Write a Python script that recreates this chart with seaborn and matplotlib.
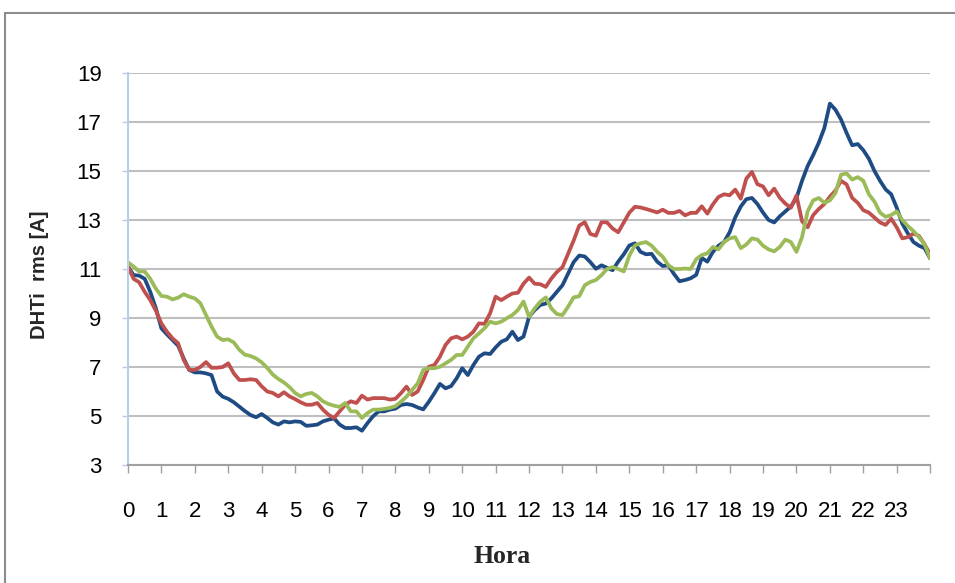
import numpy as np
import pandas as pd
import matplotlib
matplotlib.use("Agg")
import matplotlib.pyplot as plt
import seaborn as sns
from matplotlib.patches import Rectangle

# Data: DHTi rms [A], one value every 10 minutes from 00:00 to 24:00
serie_azul = [
    11.1, 10.75, 10.73, 10.6, 10.07, 9.4,
    8.58, 8.33, 8.1, 7.87, 7.35, 6.88,
    6.78, 6.78, 6.74, 6.67, 6.0, 5.79,
    5.7, 5.56, 5.38, 5.2, 5.04, 4.95,
    5.08, 4.92, 4.74, 4.65, 4.78, 4.74,
    4.78, 4.76, 4.6, 4.62, 4.65, 4.78,
    4.85, 4.9, 4.65, 4.51, 4.51, 4.54,
    4.4, 4.71, 4.99, 5.19, 5.19, 5.26,
    5.3, 5.45, 5.49, 5.45, 5.35, 5.27,
    5.58, 5.93, 6.31, 6.13, 6.22, 6.54,
    6.95, 6.67, 7.08, 7.42, 7.56, 7.53,
    7.8, 8.03, 8.13, 8.44, 8.1, 8.24,
    9.05, 9.32, 9.53, 9.59, 9.8, 10.07,
    10.34, 10.81, 11.28, 11.55, 11.51, 11.28,
    11.01, 11.15, 11.05, 10.95, 11.3, 11.6,
    11.96, 12.05, 11.7, 11.6, 11.62, 11.3,
    11.12, 11.15, 10.8, 10.5, 10.55, 10.62,
    10.76, 11.45, 11.3, 11.7, 11.95, 12.1,
    12.5, 13.1, 13.55, 13.85, 13.9, 13.65,
    13.3, 13.0, 12.9, 13.15, 13.35, 13.55,
    13.9, 14.6, 15.2, 15.65, 16.15, 16.75,
    17.75, 17.5, 17.1, 16.55, 16.05, 16.1,
    15.85, 15.5, 15.0, 14.6, 14.25, 14.05,
    13.5, 12.85, 12.45, 12.1, 11.95, 11.85,
    11.43,
]

serie_roja = [
    11.1, 10.6, 10.46, 10.07, 9.73, 9.3,
    8.78, 8.44, 8.17, 7.97, 7.29, 6.88,
    6.88, 7.0, 7.2, 6.97, 6.97, 7.0,
    7.15, 6.74, 6.47, 6.47, 6.5, 6.47,
    6.21, 6.0, 5.94, 5.8, 5.97, 5.8,
    5.69, 5.56, 5.46, 5.46, 5.53, 5.26,
    5.05, 4.92, 5.19, 5.46, 5.6, 5.53,
    5.83, 5.67, 5.73, 5.73, 5.73, 5.67,
    5.7, 5.93, 6.2, 5.86, 6.0, 6.47,
    7.01, 7.08, 7.42, 7.9, 8.17, 8.24,
    8.13, 8.24, 8.44, 8.78, 8.76, 9.19,
    9.87, 9.73, 9.87, 10.0, 10.03, 10.4,
    10.65, 10.4, 10.38, 10.27, 10.61, 10.88,
    11.08, 11.62, 12.16, 12.77, 12.91, 12.43,
    12.36, 12.91, 12.9, 12.65, 12.5, 12.9,
    13.3, 13.54, 13.51, 13.45, 13.38, 13.31,
    13.42, 13.29, 13.29, 13.37, 13.19, 13.29,
    13.29, 13.56, 13.26, 13.64, 13.94, 14.05,
    14.01, 14.24, 13.87, 14.69, 14.96, 14.46,
    14.37, 14.01, 14.28, 13.91, 13.67, 13.5,
    14.0, 12.95, 12.7, 13.2, 13.45, 13.65,
    13.95, 14.2, 14.6, 14.45, 13.9, 13.7,
    13.4, 13.3, 13.1, 12.9, 12.8, 13.05,
    12.7, 12.25, 12.3, 12.45, 12.35, 12.0,
    11.6,
]

serie_verde = [
    11.27, 11.1, 10.9, 10.9, 10.6, 10.2,
    9.9, 9.87, 9.76, 9.83, 9.97, 9.87,
    9.8, 9.6, 9.12, 8.65, 8.24, 8.1,
    8.13, 8.0, 7.7, 7.5, 7.45, 7.35,
    7.19, 6.96, 6.69, 6.51, 6.37, 6.18,
    5.94, 5.8, 5.9, 5.94, 5.8, 5.6,
    5.49, 5.42, 5.37, 5.53, 5.19, 5.19,
    4.92, 5.12, 5.26, 5.26, 5.29, 5.33,
    5.4, 5.58, 5.79, 6.06, 6.33, 6.88,
    6.95, 6.95, 7.01, 7.15, 7.29, 7.49,
    7.49, 7.83, 8.17, 8.37, 8.58, 8.85,
    8.78, 8.85, 8.99, 9.12, 9.33, 9.67,
    9.05, 9.39, 9.66, 9.84, 9.39, 9.16,
    9.12, 9.46, 9.84, 9.89, 10.34, 10.47,
    10.55, 10.75, 11.0, 11.08, 11.0, 10.9,
    11.55, 11.96, 12.05, 12.1, 11.95, 11.7,
    11.5, 11.15, 11.0, 11.0, 11.02, 11.0,
    11.4, 11.57, 11.64, 11.9, 11.8, 12.1,
    12.25, 12.3, 11.85, 12.0, 12.25, 12.2,
    11.95, 11.8, 11.72, 11.9, 12.2, 12.1,
    11.7, 12.3, 13.35, 13.8, 13.9, 13.7,
    13.8, 14.1, 14.85, 14.9, 14.65, 14.75,
    14.6, 14.05, 13.75, 13.3, 13.13, 13.2,
    13.35, 13.0, 12.75, 12.55, 12.3, 12.0,
    11.43,
]

horas = np.arange(len(serie_azul)) / 6.0
etiquetas_x = [str(h) for h in range(24)] + [""]
ticks_y = list(range(3, 20, 2))

series = {"azul": serie_azul, "roja": serie_roja, "verde": serie_verde}
colores = {"azul": "#1F4B85", "roja": "#C0504D", "verde": "#9BBB59"}

df = pd.concat(
    [pd.DataFrame({"Hora": horas, "DHTi": v, "Serie": k}) for k, v in series.items()],
    ignore_index=True,
)

sns.set_theme(style="white")
plt.rcParams["font.family"] = ["Liberation Sans Narrow", "Liberation Sans", "DejaVu Sans"]

fig = plt.figure(figsize=(9.55, 5.83), dpi=100)
ax = fig.add_axes([0.134, 0.2024, 0.84, 0.6724])

sns.lineplot(data=df, x="Hora", y="DHTi", hue="Serie", hue_order=list(series),
             palette=colores, linewidth=2.7, legend=False, errorbar=None,
             sort=False, ax=ax)

ax.set_xlim(0, 24)
ax.set_ylim(3, 19)
ax.set_xticks(range(25))
ax.set_xticklabels(etiquetas_x)
ax.set_yticks(ticks_y)
ax.grid(axis="y", color="#BFBFBF", linewidth=1.5)
ax.grid(axis="x", visible=False)
ax.set_axisbelow(True)

for s in ["top", "right"]:
    ax.spines[s].set_visible(False)
ax.spines["left"].set_color("#B9CDE5")
ax.spines["left"].set_linewidth(1.5)
ax.spines["bottom"].set_color("#A0A0A0")
ax.spines["bottom"].set_linewidth(1.5)

ax.tick_params(axis="x", bottom=True, direction="out", length=6, width=1,
               color="#A0A0A0", pad=20, labelsize=16, labelcolor="black")
ax.tick_params(axis="y", left=True, direction="out", length=4, width=1,
               color="#B9CDE5", pad=15, labelsize=16, labelcolor="black")

ax.set_xlabel("Hora", fontfamily="Liberation Serif", fontweight="bold", fontsize=18.5)
ax.xaxis.set_label_coords(0.466, -0.204)
ax.set_ylabel("DHTi  rms [A]", fontfamily=["Liberation Sans", "DejaVu Sans"],
              fontweight="bold", fontsize=14.5)
ax.yaxis.set_label_coords(-0.098, 0.485)

# outer frame of the chart object
fig.add_artist(Rectangle((5 / 955, -0.05), 1.0, (583 - 13) / 583 + 0.05,
                         transform=fig.transFigure, fill=False,
                         edgecolor="#8C8C8C", linewidth=1.5, clip_on=False))

fig.savefig("out.png", dpi=100)
